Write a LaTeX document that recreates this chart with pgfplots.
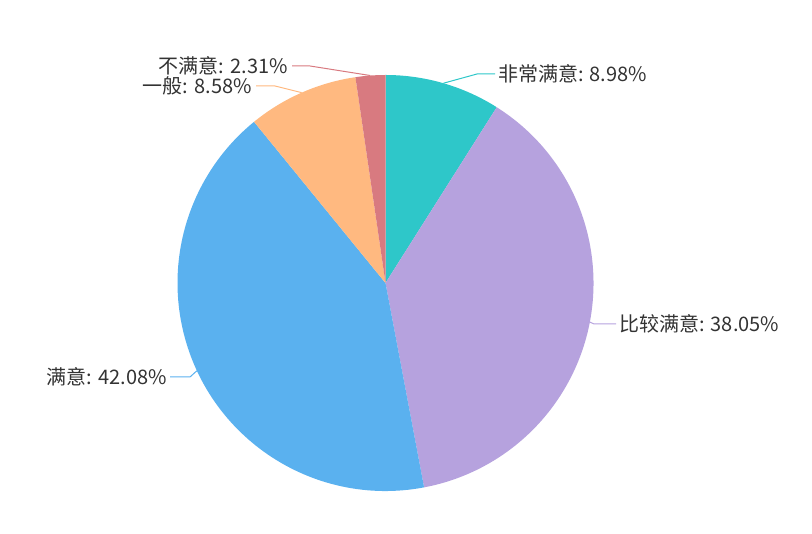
\documentclass[border=0pt]{standalone}
\usepackage{pgfplots}
\usepackage{pgfplotstable}
\pgfplotsset{compat=1.18}
\usepackage{fontspec}
\setmainfont{Noto Sans CJK SC}

\definecolor{slice0}{HTML}{2EC7C9}
\definecolor{slice1}{HTML}{B6A2DE}
\definecolor{slice2}{HTML}{5AB1EF}
\definecolor{slice3}{HTML}{FFB980}
\definecolor{slice4}{HTML}{D87A80}
\definecolor{txt}{HTML}{333333}

% shares in percent, clockwise from 12 o'clock
\pgfplotstableread{
pct
8.98
38.05
42.08
8.58
2.31
}\shares

\begin{document}
\begin{tikzpicture}
% start / end / middle angle of every slice
\def\acc{0}
\pgfplotsforeachungrouped \i in {0,...,4}{%
  \pgfplotstablegetelem{\i}{pct}\of\shares
  \pgfmathsetmacro\a{90-3.6*\acc}%
  \pgfmathsetmacro\acc{\acc+\pgfplotsretval}%
  \pgfmathsetmacro\b{90-3.6*\acc}%
  \pgfmathsetmacro\m{(\a+\b)/2}%
  \expandafter\xdef\csname sa\i\endcsname{\a}%
  \expandafter\xdef\csname sb\i\endcsname{\b}%
  \expandafter\xdef\csname sm\i\endcsname{\m}%
}
\begin{axis}[
    width=609pt, height=400.5pt,
    scale only axis,
    xmin=0, xmax=812, ymin=0, ymax=534,
    hide axis,
    clip=false,
]
\pgfplotsinvokeforeach{0,...,4}{
  \fill[slice#1] (axis cs:385.5,251)
    -- (axis cs:{385.5+208*cos(\csname sa#1\endcsname)},{251+208*sin(\csname sa#1\endcsname)})
    arc[start angle=\csname sa#1\endcsname, end angle=\csname sb#1\endcsname, radius=156pt]
    -- cycle;
}
% leader lines and labels
\newcommand\edge[1]{(axis cs:{385.5+208*cos(\csname sm#1\endcsname)},{251+208*sin(\csname sm#1\endcsname)})}
\draw[slice0, line width=0.75pt] \edge{0} -- (axis cs:477,460) -- (axis cs:495,460);
\node[txt, anchor=west, inner sep=0pt, font=\fontsize{15}{18}\selectfont] at (axis cs:498,460) {非常满意: 8.98\%};
\draw[slice1, line width=0.75pt] \edge{1} -- (axis cs:594,210) -- (axis cs:616,210);
\node[txt, anchor=west, inner sep=0pt, font=\fontsize{15}{18}\selectfont] at (axis cs:619,210) {比较满意: 38.05\%};
\draw[slice2, line width=0.75pt] \edge{2} -- (axis cs:190,157) -- (axis cs:170,157);
\node[txt, anchor=east, inner sep=0pt, font=\fontsize{15}{18}\selectfont] at (axis cs:167,157) {满意: 42.08\%};
\draw[slice3, line width=0.75pt] \edge{3} -- (axis cs:275,448) -- (axis cs:256,448);
\node[txt, anchor=east, inner sep=0pt, font=\fontsize{15}{18}\selectfont] at (axis cs:252,448) {一般: 8.58\%};
\draw[slice4, line width=0.75pt] \edge{4} -- (axis cs:310,468) -- (axis cs:292,468);
\node[txt, anchor=east, inner sep=0pt, font=\fontsize{15}{18}\selectfont] at (axis cs:288,468) {不满意: 2.31\%};
\end{axis}
\pgfresetboundingbox
\path (current axis.south west) rectangle (current axis.north east);
\end{tikzpicture}
\end{document}
